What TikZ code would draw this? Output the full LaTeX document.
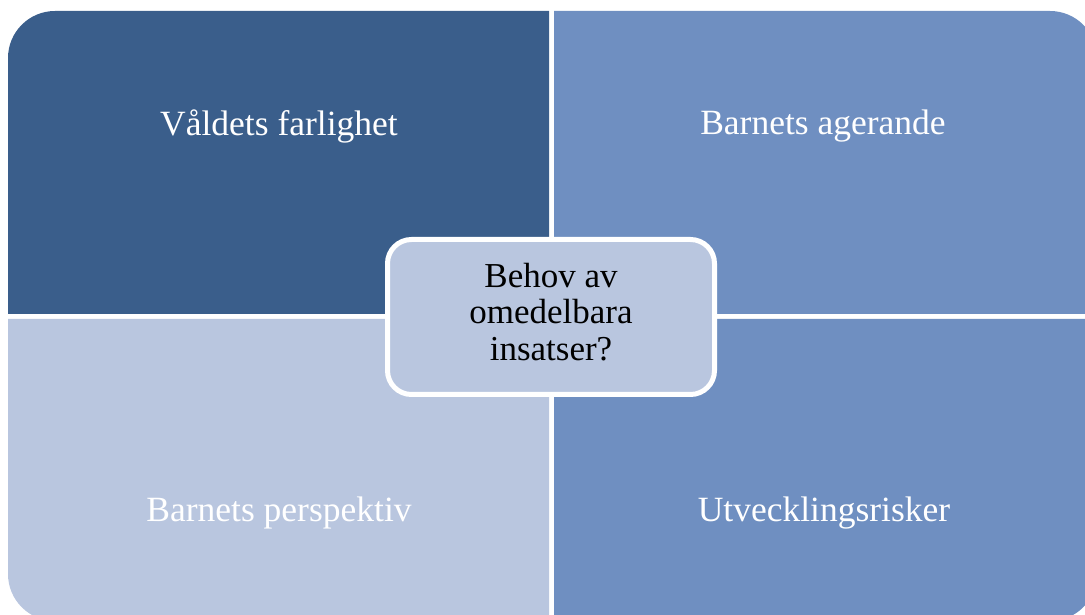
\documentclass[tikz,border=0pt]{standalone}
\usepackage{fontspec}
\setmainfont{Liberation Serif}
\usetikzlibrary{positioning}
\definecolor{darkquad}{RGB}{58,94,139}
\definecolor{midquad}{RGB}{111,143,193}
\definecolor{lightquad}{RGB}{185,198,223}

\begin{document}
\begin{tikzpicture}[x=1pt,y=1pt,
      quadtext/.style={
         text=white,
         font=\fontsize{35.5}{38}\selectfont
      },
      hub/.style={
         rectangle,
         rounded corners=24pt,
         draw=white,
         line width=5pt,
         fill=lightquad,
         minimum width=327pt,
         minimum height=155pt,
         inner sep=0pt,
         align=center,
         font=\fontsize{35}{36.5}\selectfont
      }
    ]
    \useasboundingbox (0,0) rectangle (1085,614);
    \clip (0,0) rectangle (1085,614);
    % quadrants
    \fill[darkquad] (549,300) -- (8,300) -- (8,556) arc[start angle=180,end angle=90,radius=47] -- (549,603) -- cycle;
    \fill[midquad] (554,300) -- (1097,300) -- (1097,556) arc[start angle=0,end angle=90,radius=47] -- (554,603) -- cycle;
    \fill[lightquad] (549,295) -- (8,295) -- (8,40) arc[start angle=180,end angle=270,radius=47] -- (549,-7) -- cycle;
    \fill[midquad] (554,295) -- (1097,295) -- (1097,40) arc[start angle=0,end angle=-90,radius=47] -- (554,-7) -- cycle;
    % labels
    \node[quadtext] (danger) at (279,488) {Våldets farlighet};
    \node[quadtext] (acting) at (823,488) {Barnets agerande};
    \node[quadtext] (view) at (279,101) {Barnets perspektiv};
    \node[quadtext] (risks) at (824,101) {Utvecklingsrisker};
    % centre
    \node[hub] (need) at (551,297) {Behov av\\omedelbara\\insatser?\strut};
\end{tikzpicture}
\end{document}
